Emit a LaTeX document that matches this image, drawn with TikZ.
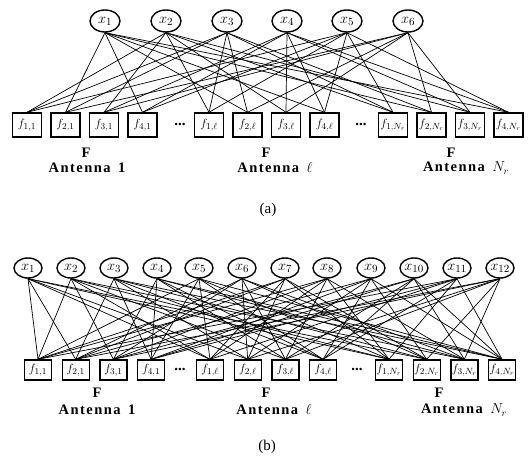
\documentclass[tikz,border=0pt]{standalone}
\usepackage{fontspec}
\setmainfont{Liberation Serif}
\newfontfamily\antfont[LetterSpace=10]{Liberation Serif}
\usetikzlibrary{shapes.geometric}
\begin{document}
\begin{tikzpicture}[x=1pt,y=-1pt,
  xnode/.style={ellipse,draw,line width=1.4pt,inner sep=0pt,font=\fontsize{15}{15}\selectfont},
  xa/.style={xnode,minimum width=30pt,minimum height=22pt},
  xb/.style={xnode,minimum width=28pt,minimum height=20pt},
  fnode/.style={rectangle,draw,line width=1.4pt,inner sep=0pt,font=\fontsize{12.5}{12.5}\selectfont},
  fa/.style={fnode,minimum width=29pt,minimum height=24pt},
  fb/.style={fnode,minimum width=27pt,minimum height=20pt},
  edge/.style={line width=0.7pt},
  blabel/.style={font=\antfont\bfseries\fontsize{14.5}{14.5}\selectfont,inner sep=0pt},
  capt/.style={font=\fontsize{15}{15}\selectfont,inner sep=0pt},
  ellip/.style={font=\bfseries\fontsize{15}{15}\selectfont,inner sep=0pt}]
\useasboundingbox (0,0) rectangle (528,463);

% ---------------- (a) ----------------
\foreach \i/\xx in {1/105,2/166,3/227,4/287,5/347,6/408}
  \node[xa] (a-x\i) at (\xx,21) {$x_{\i}$};
\foreach \k/\lab/\base in {1/1/27, l/\ell/209, N/N_r/393}
  \foreach \j in {1,2,3,4}
    \node[fa] (a-f\j-\k) at ({\base+(\j-1)*38.5},125) {$f_{\j,\lab}$};
\node[ellip] (a-d1) at (180,124) {...};
\node[ellip] (a-d2) at (361,124) {...};
\foreach \x/\p/\q in {1/2/4, 2/1/3, 3/1/2, 4/3/4, 5/1/4, 6/2/3}
  \foreach \k in {1,l,N} {
    \draw[edge] (a-x\x.south) -- (a-f\p-\k.north);
    \draw[edge] (a-x\x.south) -- (a-f\q-\k.north);
  }
\node[blabel] (a-F1) at (86,153) {$\mathbf{F}$};
\node[blabel] (a-F2) at (266,153) {$\mathbf{F}$};
\node[blabel] (a-F3) at (451,153) {$\mathbf{F}$};
\node[blabel] (a-A1) at (87,168) {Antenna\, 1};
\node[blabel] (a-A2) at (275,168) {Antenna\, {\mdseries$\ell$}};
\node[blabel] (a-A3) at (466,168) {Antenna\, {\mdseries$N_r$}};
\node[capt] (a-cap) at (268,210) {(a)};

% ---------------- (b) ----------------
\foreach \i/\xx in {1/28,2/71,3/114,4/157,5/199,6/242,7/285,8/327,9/371,10/414,11/457,12/500}
  \node[xb] (b-x\i) at (\xx,268) {$x_{\i}$};
\foreach \k/\lab/\base in {1/1/38, l/\ell/210, N/N_r/389}
  \foreach \j in {1,2,3,4}
    \node[fb] (b-f\j-\k) at ({\base+(\j-1)*37.7},370) {$f_{\j,\lab}$};
\node[ellip] (b-d1) at (180,369) {...};
\node[ellip] (b-d2) at (357,369) {...};
\foreach \x/\p/\q in {1/1/2, 2/1/3, 3/2/4, 4/3/4, 5/1/4, 6/2/3, 7/1/2, 8/1/3, 9/2/4, 10/3/4, 11/1/4, 12/2/3}
  \foreach \k in {1,l,N} {
    \draw[edge] (b-x\x.south) -- (b-f\p-\k.north);
    \draw[edge] (b-x\x.south) -- (b-f\q-\k.north);
  }
\node[blabel] (b-F1) at (97,393) {$\mathbf{F}$};
\node[blabel] (b-F2) at (266,393) {$\mathbf{F}$};
\node[blabel] (b-F3) at (439,393) {$\mathbf{F}$};
\node[blabel] (b-A1) at (97,410) {Antenna\, 1};
\node[blabel] (b-A2) at (274,410) {Antenna\, {\mdseries$\ell$}};
\node[blabel] (b-A3) at (464,410) {Antenna\, {\mdseries$N_r$}};
\node[capt] (b-cap) at (267,447) {(b)};
\end{tikzpicture}
\end{document}
